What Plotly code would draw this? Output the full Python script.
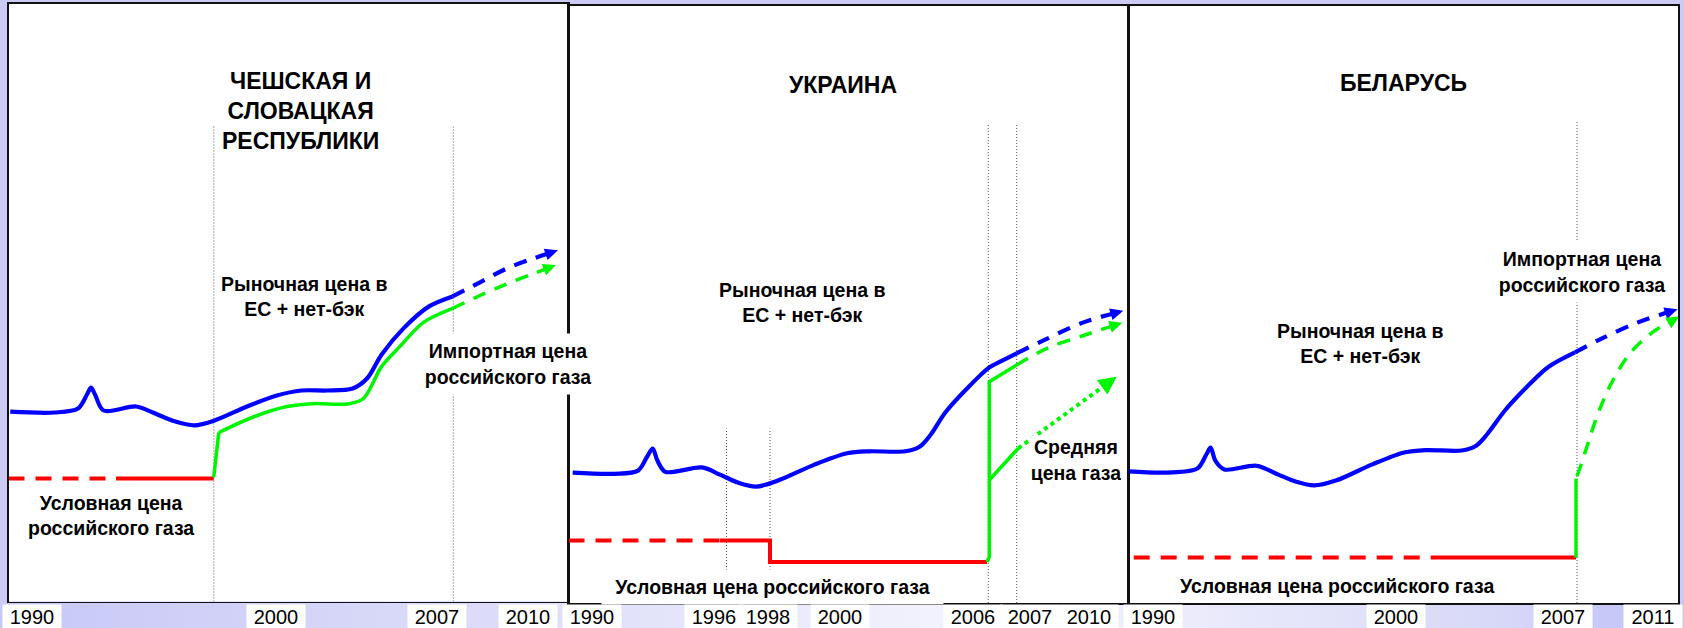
import base64
import math
import plotly.graph_objects as go

# ---------------- DATA (schematic units: position along the panel timeline, price level) ----------------
# Panel 1 - Czech & Slovak Republics
cz_eu_x = [1.7, 46, 69.5, 78.5, 82.5, 86.5, 95.1, 127.8, 144.2, 166, 186, 206, 238.5, 267.5, 293.2, 318.5, 344.1, 358.5, 373.2, 395, 420.5, 444.1]
cz_eu_y = [189.8, 189, 193, 207, 213.8, 207, 191, 195, 189, 180.2, 176.2, 181, 195, 205.8, 211, 211, 213, 223, 247.1, 273.1, 295.1, 305.1]
cz_eu_fc_x = [444.1, 471.5, 500.5, 525.5, 549.5]
cz_eu_fc_y = [305.1, 319.2, 334, 343.2, 351.2]
cz_imp_jump_x = [205.2, 210.3]
cz_imp_jump_y = [124.1, 169]
cz_imp_x = [210.3, 246, 278.5, 304.1, 340.5, 355, 373.2, 391.5, 415, 444.1]
cz_imp_y = [169, 185, 195, 197.8, 197.8, 203, 235.1, 255.1, 279.1, 293.1]
cz_imp_fc_x = [444.1, 471.5, 500.5, 525.5, 547.5]
cz_imp_fc_y = [293.1, 306, 318.5, 328, 336.5]
cz_cond_dash_x = [0, 107.5]
cz_cond_dash_y = [122.9, 122.9]
cz_cond_x = [107.5, 205.2]
cz_cond_y = [122.9, 122.9]
cz_events = [205.3, 444.8]
cz_event_top = 476
cz_years = ["1990", "2000", "2007", "2010"]
cz_year_pos = [23.5, 267.5, 428.5, 519.5]

# Panel 2 - Ukraine
ua_eu_x = [4.2, 46, 69.5, 78.7, 84.2, 88.9, 96.9, 133.3, 151.5, 169.5, 187.8, 209.5, 246, 278.7, 300.5, 336.8, 351.4, 362.3, 376.8, 398.5, 420.5, 431.5, 448.2]
ua_eu_y = [130.4, 129.2, 132.4, 146.5, 154.5, 142.4, 131.2, 135.6, 128.4, 120.4, 116.4, 122.4, 138.4, 149.7, 151.7, 151.7, 156.5, 168.5, 190.5, 214.5, 235.4, 241.3, 249.7]
ua_eu_fc_x = [448.2, 475, 514.9, 554.8]
ua_eu_fc_y = [249.7, 262.6, 280.6, 292.3]
ua_cond_dash_x = [0, 151.5]
ua_cond_dash_y = [62.4, 62.4]
ua_cond_x = [151.5, 201.5, 201.5, 418.5]
ua_cond_y = [62.4, 62.4, 41.1, 41.1]
ua_imp_x = [418.5, 420.8, 420.8, 448.2]
ua_imp_y = [41.1, 46, 221.3, 238]
ua_imp_fc_x = [448.2, 478.5, 516.5, 553.8]
ua_imp_fc_y = [238, 254.6, 268, 280.3]
ua_avg_x = [420.8, 449.8]
ua_avg_y = [123, 154.7]
ua_avg_fc_x = [449.8, 548.2]
ua_avg_fc_y = [154.7, 226.3]
ua_events_low = [158, 201.5]
ua_events_low_top = 174.5
ua_events = [419.8, 448.2]
ua_event_top = 478
ua_years = ["1990", "1996", "1998", "2000", "2006", "2007", "2010"]
ua_year_pos = [23.5, 145.5, 199.5, 271.5, 404.5, 461.5, 520.5]

# Panel 3 - Belarus
by_eu_x = [0.5, 38.3, 68.8, 77.8, 82.1, 86.8, 95.8, 128.2, 149.8, 167.8, 185.7, 207.3, 243.3, 275.7, 297.3, 333.2, 347.6, 358.4, 376.4, 398, 419.5, 446.5]
by_eu_y = [131.6, 130.4, 134.4, 148.5, 155.3, 142.4, 133.6, 137.2, 128.4, 121.2, 117.6, 122.4, 138.4, 150.5, 152.9, 152.5, 157.3, 168.5, 192.5, 215.7, 235.8, 250.6]
by_eu_fc_x = [446.5, 473.5, 509.5, 549.1]
by_eu_fc_y = [250.6, 264.6, 280.6, 293.8]
by_cond_dash_x = [5.2, 304.5]
by_cond_dash_y = [45.5, 45.5]
by_cond_x = [304.5, 447.5]
by_cond_y = [45.5, 45.5]
by_imp_x = [447.5, 447.5]
by_imp_y = [45.5, 124.4]
by_imp_fc_x = [448.5, 452.5, 459.1, 469.9, 484.3, 502.3, 523.9, 550.9]
by_imp_fc_y = [127, 138, 158.5, 190.5, 222.5, 250.6, 270.6, 286.6]
by_events = [448.5]
by_event_top = 481
by_years = ["1990", "2000", "2007", "2011"]
by_year_pos = [24.5, 267.5, 434.5, 524.5]

titles = ["ЧЕШСКАЯ И<br>СЛОВАЦКАЯ<br>РЕСПУБЛИКИ", "УКРАИНА", "БЕЛАРУСЬ"]
lbl_market = "Рыночная цена в<br>ЕС + нет-бэк"
lbl_import = "Импортная цена<br>российского газа"
lbl_cond2 = "Условная цена<br>российского газа"
lbl_cond1 = "Условная цена российского газа"
lbl_avg = "Средняя<br>цена газа"

# ---------------- STYLE / LAYOUT ----------------
W, H = 1684, 628
BLUE, GREEN, RED = "#0000ff", "#00f500", "#ff0000"
FONT = "Liberation Sans, Arial, sans-serif"
panels = [  # left, right, top, bottom (screen px); axis units are 1:1 with pixels
    (8.5, 568, 4, 601.5),
    (568.5, 1128.5, 6, 603),
    (1128.5, 1678, 6, 603),
]

fig = go.Figure()


def axn(i):
    return ("x" if i == 0 else f"x{i+1}", "y" if i == 0 else f"y{i+1}")


def line(i, x, y, color, width, dash="solid", shape="linear", smoothing=1.0):
    xa, ya = axn(i)
    fig.add_trace(go.Scatter(x=x, y=y, mode="lines", xaxis=xa, yaxis=ya,
                             line=dict(color=color, width=width, dash=dash, shape=shape,
                                       smoothing=smoothing),
                             hoverinfo="skip", showlegend=False))


def arrow_line(i, x, y, color, width, dash, shape, hl, hw):
    """Draw a line ending in a filled triangular arrowhead (head geometry derived from the last segment)."""
    tx, ty = x[-1], y[-1]
    dx, dy = tx - x[-2], ty - y[-2]
    n = math.hypot(dx, dy)
    ux, uy = dx / n, dy / n
    bx, by = tx - hl * ux, ty - hl * uy
    px, py = -uy * hw / 2, ux * hw / 2
    xs = list(x[:-1]) + [tx - 0.7 * hl * ux]
    ys = list(y[:-1]) + [ty - 0.7 * hl * uy]
    line(i, xs, ys, color, width, dash=dash, shape=shape)
    xa, ya = axn(i)
    fig.add_trace(go.Scatter(x=[tx, bx + px, bx - px, tx], y=[ty, by + py, by - py, ty],
                             mode="lines", fill="toself", fillcolor=color,
                             line=dict(width=0, color=color), xaxis=xa, yaxis=ya,
                             hoverinfo="skip", showlegend=False))


def vmark(i, xs, top):
    for xv in xs:
        line(i, [xv, xv], [0, top], "#555555", 1, dash="1px,2px")


DASH = "13px,10px"
HL, HW = 13, 12
# event markers first (below curves)
vmark(0, cz_events, cz_event_top)
vmark(1, ua_events_low, ua_events_low_top)
vmark(1, ua_events, ua_event_top)
vmark(2, by_events, by_event_top)

# Panel 1
line(0, cz_cond_dash_x, cz_cond_dash_y, RED, 4, dash="16px,11px")
line(0, cz_cond_x, cz_cond_y, RED, 4)
line(0, cz_eu_x, cz_eu_y, BLUE, 4.2, shape="spline", smoothing=0.9)
arrow_line(0, cz_eu_fc_x, cz_eu_fc_y, BLUE, 4.2, DASH, "spline", HL, HW)
line(0, cz_imp_jump_x, cz_imp_jump_y, GREEN, 3.5)
line(0, cz_imp_x, cz_imp_y, GREEN, 3.5, shape="spline", smoothing=0.9)
arrow_line(0, cz_imp_fc_x, cz_imp_fc_y, GREEN, 3.5, DASH, "spline", HL, HW)

# Panel 2
line(1, ua_cond_dash_x, ua_cond_dash_y, RED, 4, dash="16px,11px")
line(1, ua_cond_x, ua_cond_y, RED, 4)
line(1, ua_eu_x, ua_eu_y, BLUE, 4.2, shape="spline", smoothing=0.9)
arrow_line(1, ua_eu_fc_x, ua_eu_fc_y, BLUE, 4.2, DASH, "spline", HL, HW)
line(1, ua_imp_x, ua_imp_y, GREEN, 3.5)
arrow_line(1, ua_imp_fc_x, ua_imp_fc_y, GREEN, 3.5, DASH, "spline", HL, HW)
line(1, ua_avg_x, ua_avg_y, GREEN, 3.5)
arrow_line(1, ua_avg_fc_x, ua_avg_fc_y, GREEN, 4, "4px,4px", "linear", 18, 18)

# Panel 3
line(2, by_cond_dash_x, by_cond_dash_y, RED, 4, dash="16px,11px")
line(2, by_cond_x, by_cond_y, RED, 4)
line(2, by_eu_x, by_eu_y, BLUE, 4.2, shape="spline", smoothing=0.9)
arrow_line(2, by_eu_fc_x, by_eu_fc_y, BLUE, 4.2, DASH, "spline", HL, HW)
line(2, by_imp_x, by_imp_y, GREEN, 3.5)
arrow_line(2, by_imp_fc_x, by_imp_fc_y, GREEN, 3.5, DASH, "spline", HL, HW)

# axes / panels
layout = dict(width=W, height=H, margin=dict(l=0, r=0, t=0, b=0), autosize=False,
              paper_bgcolor="#cbcbf6", plot_bgcolor="#ffffff", showlegend=False,
              font=dict(family=FONT, color="#000000"))
for i, (l, r, t, b) in enumerate(panels):
    sx = "" if i == 0 else str(i + 1)
    common = dict(showgrid=False, zeroline=False, showticklabels=False, ticks="",
                  showline=True, mirror=True, linecolor="#111111", linewidth=1.8,
                  fixedrange=True)
    layout["xaxis" + sx] = dict(domain=[l / W, r / W], range=[0, r - l],
                                anchor="y" + sx, **common)
    layout["yaxis" + sx] = dict(domain=[(H - b) / H, (H - t) / H], range=[0, b - t],
                                anchor="x" + sx, **common)
fig.update_layout(**layout)

ann = []


def text(i, x, y, s, size=19.5, bg=None, w=None, h=None):
    xa, ya = axn(i)
    d = dict(x=x, y=y, xref=xa, yref=ya, text=s, showarrow=False,
             font=dict(family=FONT, size=size, color="#000000", weight="bold"),
             xanchor="center", yanchor="middle", align="center")
    if bg:
        d.update(bgcolor=bg, width=w, height=h, borderpad=0)
    ann.append(d)


# titles
text(0, 291.5, 491, titles[0], size=23)
text(1, 274.5, 518, titles[1], size=23)
text(2, 274.5, 520, titles[2], size=23)
# labels
text(0, 295.5, 305.5, lbl_market)
text(0, 499.5, 238, lbl_import, bg="#ffffff", w=176, h=60)
text(0, 102.5, 86.5, lbl_cond2)
text(1, 233.5, 301, lbl_market)
text(1, 571.5, 328.5, lbl_import, bg="#ffffff", w=168, h=60)
text(1, 507.5, 143, lbl_avg, bg="#ffffff", w=90, h=48)
text(1, 204, 16, lbl_cond1, bg="#ffffff", w=341, h=34)
text(2, 231.5, 259.5, lbl_market)
text(2, 453.5, 331, lbl_import, bg="#ffffff", w=168, h=60)
text(2, 208.5, 17, lbl_cond1)

# year labels on the bottom strip
for i, (yrs, pos) in enumerate([(cz_years, cz_year_pos), (ua_years, ua_year_pos), (by_years, by_year_pos)]):
    xa, _ = axn(i)
    for yr, p in zip(yrs, pos):
        ann.append(dict(x=p, y=(H - 616.5) / H, xref=xa, yref="paper", text=yr, showarrow=False,
                        font=dict(family=FONT, size=20, color="#000000"),
                        bgcolor="#ffffff", width=58, height=23, borderpad=0,
                        xanchor="center", yanchor="middle"))
fig.update_layout(annotations=ann)

# bottom strip gradient
stops = [(0, "#c8c8f8"), (0.05, "#cbcbf8"), (0.2, "#d6d6f8"), (0.35, "#e0e0fa"),
         (0.45, "#e8e8fb"), (0.55, "#f2f2fd"), (0.7, "#ececfc"), (0.8, "#e2e2fa"),
         (0.9, "#d6d6f8"), (0.95, "#c8c8f8"), (1, "#c8c8f8")]
st = "".join(f'<stop offset="{o}" stop-color="{c}"/>' for o, c in stops)
svg = (f'<svg xmlns="http://www.w3.org/2000/svg" width="{W}" height="25" preserveAspectRatio="none">'
       f'<defs><linearGradient id="g" x1="0" x2="1" y1="0" y2="0">{st}</linearGradient></defs>'
       f'<rect width="{W}" height="25" fill="url(#g)"/></svg>')
src = "data:image/svg+xml;base64," + base64.b64encode(svg.encode()).decode()
fig.add_layout_image(dict(source=src, xref="paper", yref="paper", x=0, y=(H - 603) / H,
                          sizex=1, sizey=25 / H, xanchor="left", yanchor="top",
                          sizing="stretch", layer="below"))

fig.write_html("out.html", config=dict(displayModeBar=False, staticPlot=True),
               post_script="document.body.style.margin='0';document.body.style.overflow='hidden';")
